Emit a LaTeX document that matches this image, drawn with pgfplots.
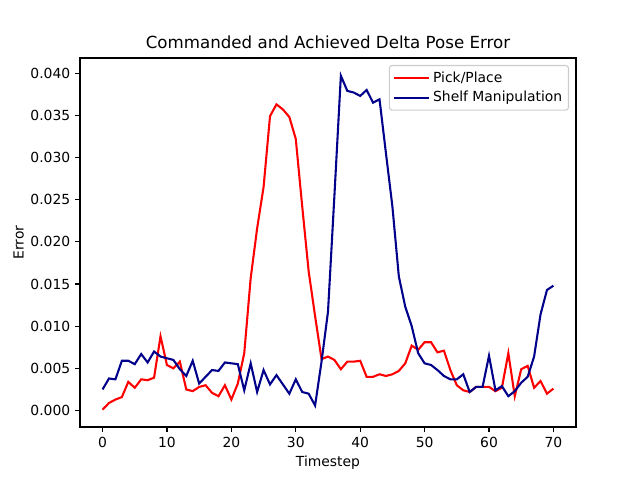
\documentclass[border=0pt]{standalone}
\usepackage{pgfplots}
\pgfplotsset{compat=1.18}
\usepackage{fontspec}
\setmainfont{DejaVu Sans}
\definecolor{mplred}{rgb}{1,0,0}
\definecolor{mplnavy}{rgb}{0,0,0.545}
\begin{document}
\begin{tikzpicture}
\begin{axis}[
  scale only axis,
  width=357.1pt, height=265.7pt,
  xmin=-3.5, xmax=73.5,
  ymin=-0.00195, ymax=0.0418,
  xtick={0,10,20,30,40,50,60,70},
  ytick={0,0.005,0.01,0.015,0.02,0.025,0.03,0.035,0.04},
  scaled y ticks=false,
  yticklabel style={/pgf/number format/.cd,fixed,fixed zerofill,precision=3},
  /pgf/number format/assume math mode=true,
  tick align=outside,
  tick pos=left,
  major tick length=3.5pt,
  tick style={black, line width=0.8pt},
  axis line style={line width=0.8pt},
  tick label style={font=\fontsize{10}{12}\selectfont},
  label style={font=\fontsize{10}{12}\selectfont},
  title style={font=\fontsize{12}{14.4}\selectfont, yshift=-3pt},
  title={Commanded and Achieved Delta Pose Error},
  xlabel={Timestep},
  ylabel={Error},
  xlabel style={yshift=0.5pt},
  ylabel style={yshift=-2pt},
  legend cell align=left,
  legend style={at={(1,1)}, anchor=north east, xshift=-5pt, yshift=-5pt,
    draw=black!20, rounded corners=2pt, fill=white, line width=0.8pt,
    font=\fontsize{10}{12}\selectfont, row sep=1pt, inner sep=2.5pt},
  legend image code/.code={\draw[mark repeat=2,mark phase=2,#1] plot coordinates {(0pt,0pt) (10.75pt,0pt) (21.5pt,0pt)};
    \path (0pt,0pt) -- (25.5pt,0pt);},
]
\addplot[mplred, line width=1.5pt] coordinates {
(0,0.0001) (1,0.0009) (2,0.0013) (3,0.0016) (4,0.0034) (5,0.0027) (6,0.0037) (7,0.0036) (8,0.0039) (9,0.0088)
(10,0.0054) (11,0.0050) (12,0.0058) (13,0.0025) (14,0.0023) (15,0.0028) (16,0.0030) (17,0.0021) (18,0.0017) (19,0.0030)
(20,0.0013) (21,0.0032) (22,0.0068) (23,0.0157) (24,0.0216) (25,0.0265) (26,0.0349) (27,0.0363) (28,0.0357) (29,0.0348)
(30,0.0322) (31,0.0242) (32,0.0165) (33,0.0112) (34,0.0061) (35,0.0064) (36,0.0060) (37,0.0049) (38,0.0058) (39,0.0058)
(40,0.0059) (41,0.0040) (42,0.0040) (43,0.0043) (44,0.0041) (45,0.0043) (46,0.0047) (47,0.0056) (48,0.0077) (49,0.0072)
(50,0.0081) (51,0.0081) (52,0.0069) (53,0.0071) (54,0.0048) (55,0.0030) (56,0.0024) (57,0.0022) (58,0.0028) (59,0.0028)
(60,0.0028) (61,0.0023) (62,0.0027) (63,0.0068) (64,0.0017) (65,0.0049) (66,0.0053) (67,0.0027) (68,0.0035) (69,0.0020)
(70,0.0026)
};
\addlegendentry{Pick/Place}
\addplot[mplnavy, line width=1.5pt] coordinates {
(0,0.0025) (1,0.0038) (2,0.0037) (3,0.0059) (4,0.0059) (5,0.0055) (6,0.0067) (7,0.0057) (8,0.0070) (9,0.0064)
(10,0.0062) (11,0.0060) (12,0.0049) (13,0.0041) (14,0.0059) (15,0.0032) (16,0.0040) (17,0.0048) (18,0.0047) (19,0.0057)
(20,0.0056) (21,0.0055) (22,0.0024) (23,0.0056) (24,0.0022) (25,0.0048) (26,0.0031) (27,0.0042) (28,0.0031) (29,0.0020)
(30,0.0037) (31,0.0022) (32,0.0020) (33,0.0006) (34,0.0058) (35,0.0117) (36,0.0255) (37,0.0397) (38,0.0379) (39,0.0377)
(40,0.0373) (41,0.0380) (42,0.0365) (43,0.0369) (44,0.0305) (45,0.0242) (46,0.0159) (47,0.0123) (48,0.0100) (49,0.0068)
(50,0.0056) (51,0.0054) (52,0.0048) (53,0.0041) (54,0.0037) (55,0.0037) (56,0.0043) (57,0.0022) (58,0.0028) (59,0.0028)
(60,0.0065) (61,0.0024) (62,0.0029) (63,0.0017) (64,0.0023) (65,0.0033) (66,0.0040) (67,0.0064) (68,0.0114) (69,0.0143)
(70,0.0148)
};
\addlegendentry{Shelf Manipulation}
\end{axis}
\pgfresetboundingbox
\path[use as bounding box] ([shift={(-57.6pt,-38.16pt)}]current axis.south west) rectangle ++(460.8pt,345.6pt);
\end{tikzpicture}
\end{document}
